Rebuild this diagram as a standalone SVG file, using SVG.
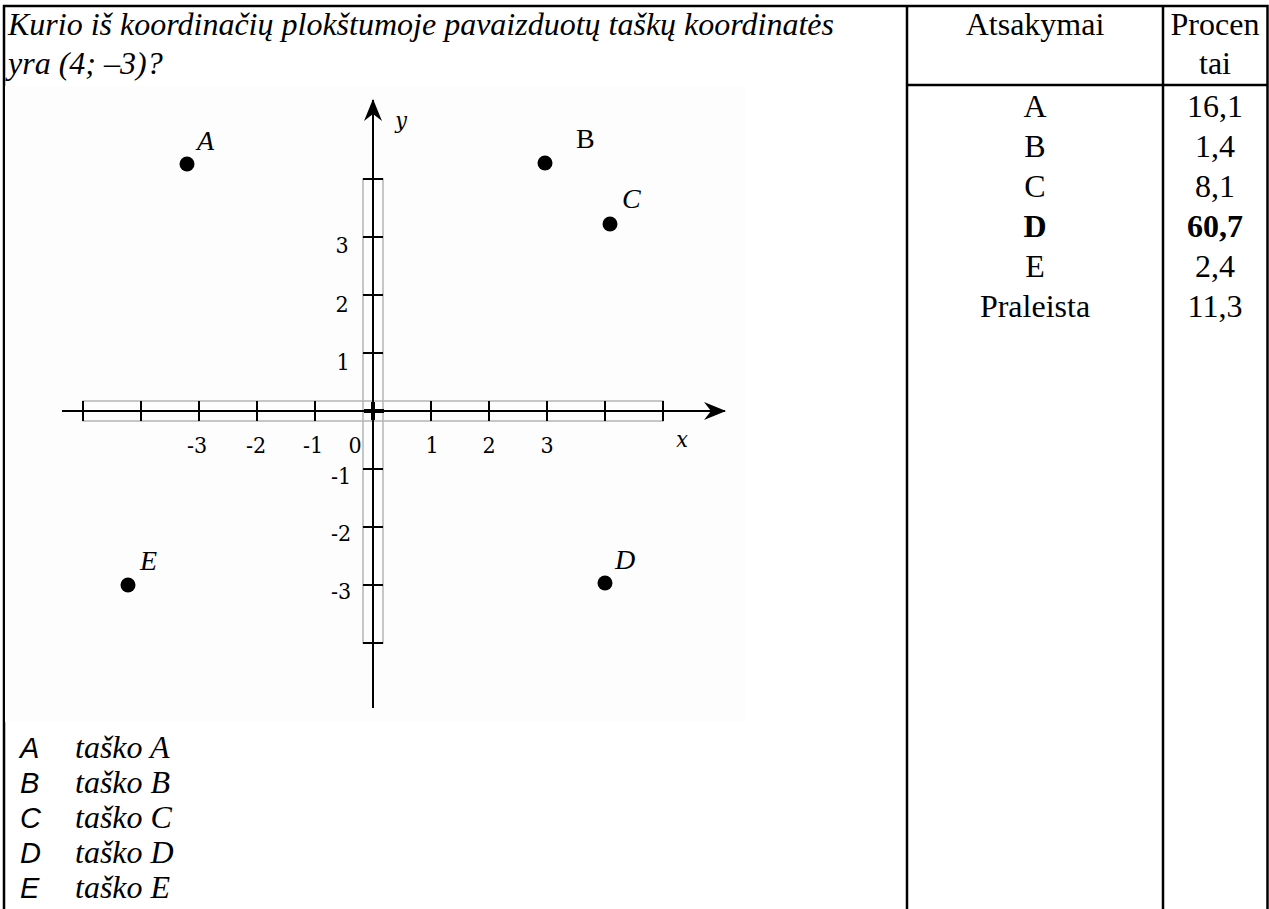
<svg xmlns="http://www.w3.org/2000/svg" width="1269" height="909" viewBox="0 0 1269 909">
<style>
.q{font-family:"Liberation Serif","Times New Roman",serif;font-style:italic;font-size:32px;fill:#000}
.t{font-family:"Liberation Serif","Times New Roman",serif;font-size:32px;fill:#000;text-anchor:middle}
.b{font-weight:bold}
.opt{font-family:"Liberation Sans",Arial,sans-serif;font-style:italic;font-size:29px;fill:#000}
.tick{font-family:"DejaVu Serif Condensed","DejaVu Serif","Liberation Serif",serif;font-stretch:condensed;font-size:23px;fill:#000;text-anchor:middle}
.pl{font-family:"Liberation Serif","Times New Roman",serif;font-size:28px;fill:#000}
.it{font-style:italic}
.grid{fill:none;stroke:#b4b4b4;stroke-width:1.5}
.ax{stroke:#000;stroke-width:2;fill:none}
.tk{stroke:#000;stroke-width:2}
.bd{stroke:#000;stroke-width:2.5;fill:none}
</style>
<defs>
<marker id="arr" viewBox="0 0 22 18" refX="21" refY="9" markerWidth="22" markerHeight="18" markerUnits="userSpaceOnUse" orient="auto">
<path d="M0,0 L22,9 L0,18 L7,9 Z" fill="#000"/>
</marker>
</defs>
<rect width="1269" height="909" fill="#fff"/>
<g id="table">
<path class="bd" d="M4,911 V6 H1267.5 V911 M907,6 V911 M1163,6 V911 M907,85 H1267.5"/>
</g>
<g id="question">
<text class="q" x="8" y="35">Kurio iš koordinačių plokštumoje pavaizduotų taškų koordinatės</text>
<text class="q" x="8" y="74">yra (4; –3)?</text>
</g>
<g id="header">
<text class="t" x="1035" y="35">Atsakymai</text>
<text class="t" x="1215" y="35">Procen</text>
<text class="t" x="1215" y="74">tai</text>
</g>
<g id="rows">
<text class="t" x="1035" y="117">A</text><text class="t" x="1215" y="117">16,1</text>
<text class="t" x="1035" y="157">B</text><text class="t" x="1215" y="157">1,4</text>
<text class="t" x="1035" y="197">C</text><text class="t" x="1215" y="197">8,1</text>
<text class="t b" x="1035" y="237">D</text><text class="t b" x="1215" y="237">60,7</text>
<text class="t" x="1035" y="277">E</text><text class="t" x="1215" y="277">2,4</text>
<text class="t" x="1035" y="317">Praleista</text><text class="t" x="1215" y="317">11,3</text>
</g>
<g id="graph">
<rect x="5" y="86" width="740" height="636" fill="#fdfdfd"/>
<rect class="grid" x="83" y="401" width="580" height="20"/>
<rect class="grid" x="363" y="179" width="20" height="464"/>
<g id="connectors">
<line class="ax" x1="62" y1="411" x2="725" y2="411" marker-end="url(#arr)"/>
<line class="ax" x1="373" y1="708" x2="373" y2="100" marker-end="url(#arr)"/>
</g>
<path class="tk" d="M83,401V421M141,401V421M199,401V421M257,401V421M315,401V421M431,401V421M489,401V421M547,401V421M605,401V421M663,401V421"/>
<path class="tk" d="M363,179H383M363,237H383M363,295H383M363,353H383M363,469H383M363,527H383M363,585H383M363,643H383"/>
<path stroke="#000" stroke-width="4" d="M364,411H384M373,402V420"/>
<text class="tick" x="197" y="453">-3</text>
<text class="tick" x="256" y="453">-2</text>
<text class="tick" x="313" y="453">-1</text>
<text class="tick" x="355" y="453">0</text>
<text class="tick" x="432" y="453">1</text>
<text class="tick" x="489" y="453">2</text>
<text class="tick" x="547" y="453">3</text>
<text class="tick it" x="682" y="447">x</text>
<text class="tick" x="342" y="253">3</text>
<text class="tick" x="342" y="312">2</text>
<text class="tick" x="343" y="370">1</text>
<text class="tick" x="341" y="484">-1</text>
<text class="tick" x="341" y="541">-2</text>
<text class="tick" x="341" y="599">-3</text>
<text class="tick it" x="401" y="128">y</text>
</g>
<g id="pA"><circle cx="187" cy="164" r="7.5"/><text class="pl it" x="197" y="150">A</text></g>
<g id="pB"><circle cx="545" cy="163" r="7.5"/><text class="pl" x="576" y="148">B</text></g>
<g id="pC"><circle cx="610" cy="224" r="7.5"/><text class="pl it" x="622" y="208">C</text></g>
<g id="pD"><circle cx="605" cy="583" r="7.5"/><text class="pl it" x="615" y="569">D</text></g>
<g id="pE"><circle cx="128" cy="585" r="7.5"/><text class="pl it" x="140" y="570">E</text></g>
<g id="options">
<text class="opt" x="20" y="758">A</text><text class="q" x="75" y="758">taško A</text>
<text class="opt" x="20" y="793">B</text><text class="q" x="75" y="793">taško B</text>
<text class="opt" x="20" y="828">C</text><text class="q" x="75" y="828">taško C</text>
<text class="opt" x="20" y="863">D</text><text class="q" x="75" y="863">taško D</text>
<text class="opt" x="20" y="898">E</text><text class="q" x="75" y="898">taško E</text>
</g>
</svg>
